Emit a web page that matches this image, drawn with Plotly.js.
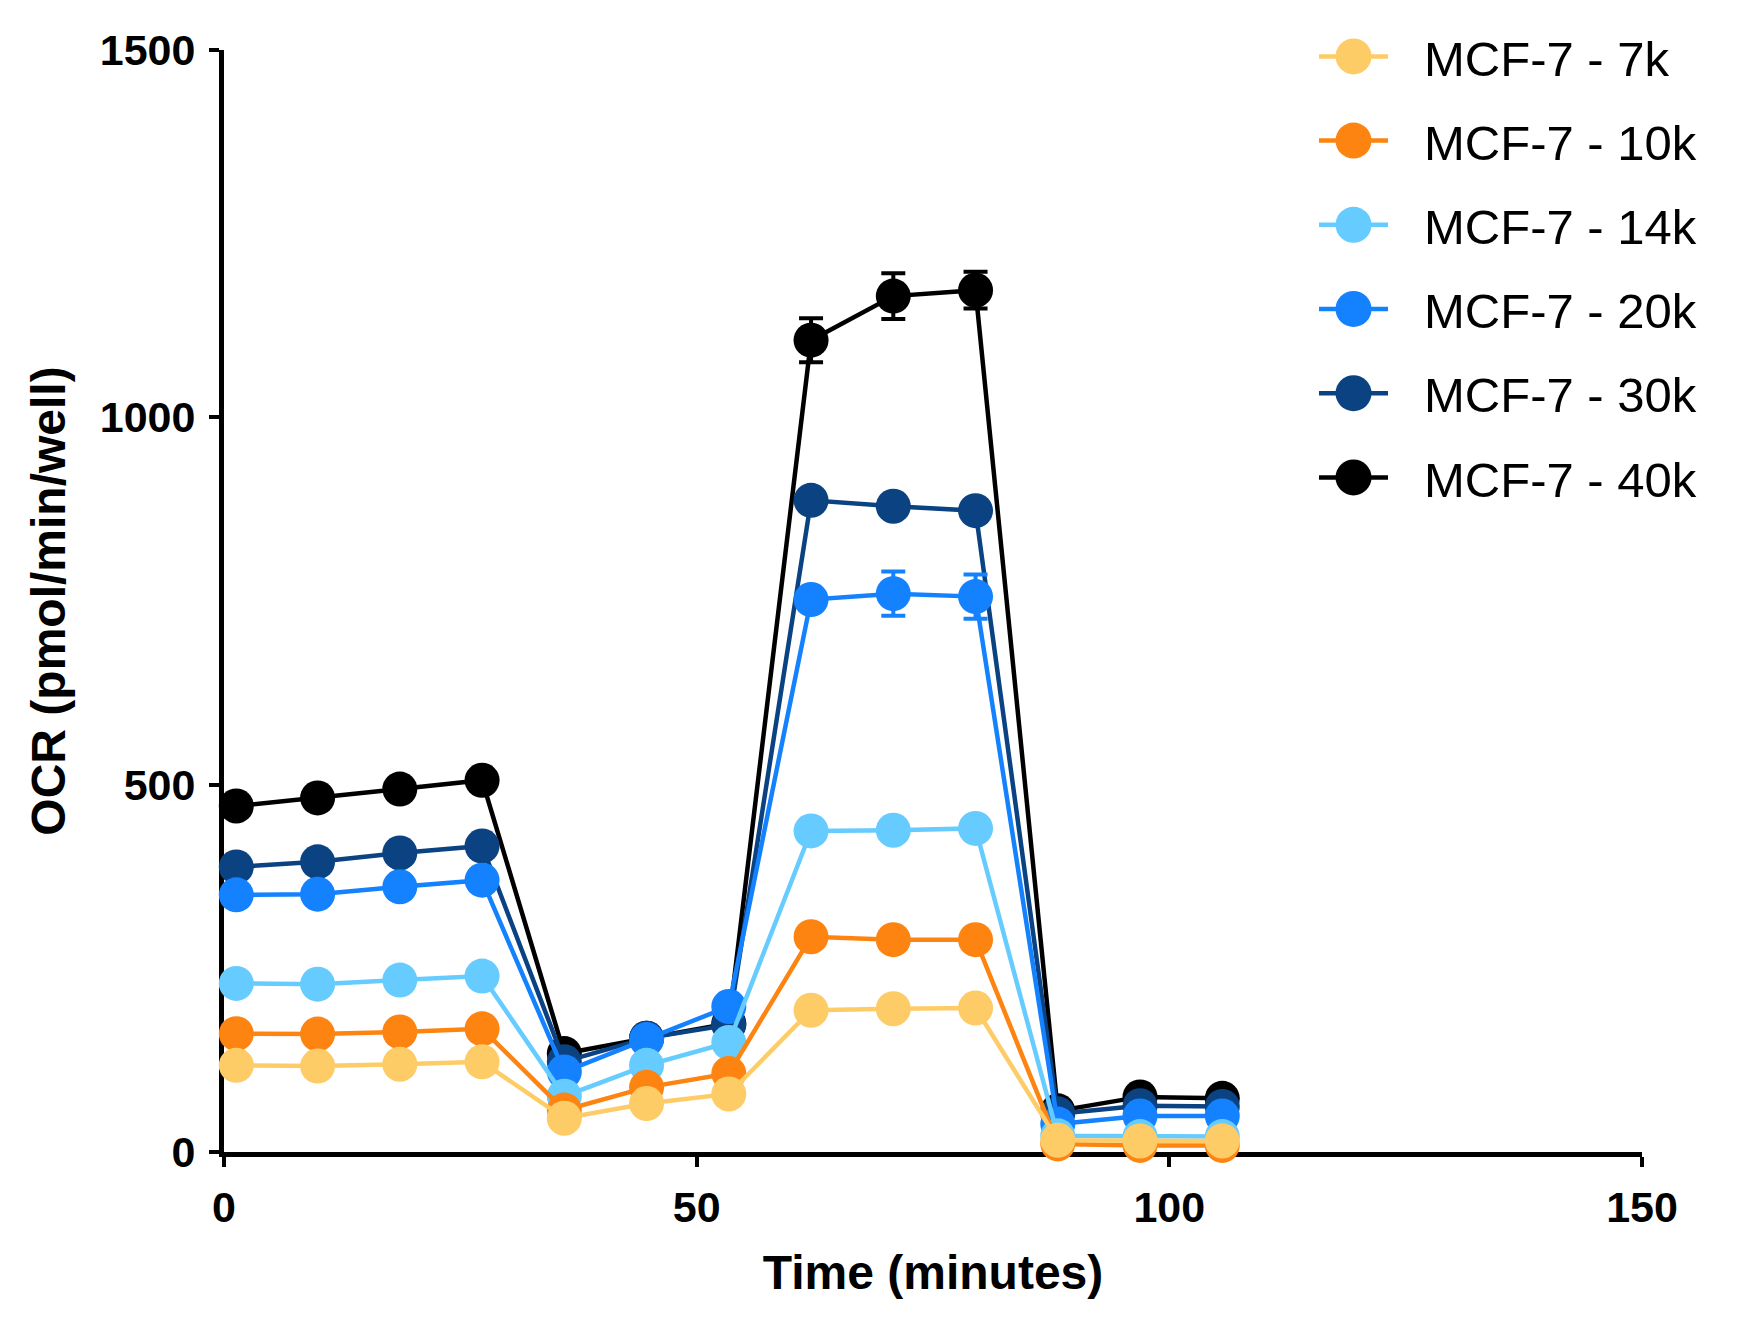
<!DOCTYPE html>
<html>
<head>
<meta charset="utf-8">
<script src="https://cdn.plot.ly/plotly-3.0.1.min.js"></script>
<style>
html, body { margin: 0; padding: 0; background: #ffffff; }
#chart { width: 1755px; height: 1321px; }
</style>
</head>
<body>
<div id="chart"></div>
<script>
// Time points (minutes)
const timeMin = [1.3, 9.9, 18.6, 27.3, 36.0, 44.7, 53.4, 62.1, 70.8, 79.5, 88.2, 96.9, 105.6];

// Series names
const seriesNames = ["MCF-7 - 7k", "MCF-7 - 10k", "MCF-7 - 14k", "MCF-7 - 20k", "MCF-7 - 30k", "MCF-7 - 40k"];

// OCR values (pmol/min/well)
const ocr7k  = [118, 117, 119.5, 122.7, 46, 66, 79, 193, 195, 196, 16, 15, 15];
const ocr10k = [161, 160.5, 163.5, 167.7, 57, 88, 107, 293, 289, 289, 11, 9, 9];
const ocr14k = [229.5, 228.5, 234, 239.5, 76, 118, 149, 437, 438, 440.5, 22, 21, 21];
const ocr20k = [350, 351, 361, 370, 109, 153, 198, 752, 760, 756, 38, 49, 49];
const ocr30k = [388, 395, 407, 416.5, 123, 155, 173, 887, 879, 873, 52, 63, 62];
const ocr40k = [471, 482, 494, 506, 134, 155, 175, 1105, 1165, 1173, 56, 75, 73];

// Error (SEM) values
const err7k  = [0, 0, 0, 0, 0, 0, 0, 0, 0, 0, 0, 0, 0];
const err10k = [0, 0, 0, 0, 0, 0, 0, 0, 0, 0, 0, 0, 0];
const err14k = [0, 0, 0, 0, 0, 0, 0, 0, 0, 0, 0, 0, 0];
const err20k = [0, 0, 0, 0, 0, 0, 0, 8, 30, 30, 0, 0, 0];
const err30k = [0, 0, 0, 0, 0, 0, 0, 0, 0, 0, 0, 0, 0];
const err40k = [0, 0, 0, 0, 0, 0, 0, 30, 31, 25, 0, 0, 0];

// Colours
const colors = ["#FECC66", "#FD8410", "#66CCFF", "#1482FF", "#0A4282", "#000000"];

const values = [ocr7k, ocr10k, ocr14k, ocr20k, ocr30k, ocr40k];
const errors = [err7k, err10k, err14k, err20k, err30k, err40k];

const FONT = "Liberation Sans, Arial, Helvetica, sans-serif";

const traces = [];
// Draw largest series first so the smaller ones sit on top (as in the reference)
for (let i = values.length - 1; i >= 0; i--) {
  traces.push({
    type: "scatter",
    mode: "lines+markers",
    name: seriesNames[i],
    legendgroup: "g" + i,
    legendrank: i + 1,
    x: timeMin,
    y: values[i],
    cliponaxis: false,
    line: { color: colors[i], width: 4.5 },
    marker: { color: colors[i], size: 35, line: { width: 0 } },
    error_y: {
      type: "data",
      array: errors[i],
      visible: true,
      color: colors[i],
      thickness: 4,
      width: 12
    }
  });
}

const layout = {
  width: 1755,
  height: 1321,
  paper_bgcolor: "#ffffff",
  plot_bgcolor: "#ffffff",
  font: { family: FONT, color: "#000000" },
  margin: { l: 224, r: 113, t: 50, b: 169, autoexpand: false },
  showlegend: true,
  legend: {
    x: 0.7687,
    y: 1.029,
    xanchor: "left",
    yanchor: "top",
    traceorder: "grouped",
    tracegroupgap: 17.5,
    itemwidth: 100,
    font: { family: FONT, size: 49, color: "#000000" },
    bgcolor: "rgba(0,0,0,0)"
  },
  xaxis: {
    range: [0, 150],
    tickvals: [0, 50, 100, 150],
    ticktext: ["0", "50", "100", "150"],
    showgrid: false,
    zeroline: false,
    showline: true,
    linecolor: "#000000",
    linewidth: 5,
    ticks: "outside",
    ticklen: 10,
    tickwidth: 4,
    tickcolor: "#000000",
    ticklabelstandoff: 3,
    layer: "below traces",
    tickfont: { family: FONT, size: 43, weight: 700, color: "#000000" },
    title: { text: "Time (minutes)", font: { family: FONT, size: 48, weight: 700, color: "#000000" }, standoff: 27 }
  },
  yaxis: {
    range: [0, 1500],
    tickvals: [0, 500, 1000, 1500],
    ticktext: ["0", "500", "1000", "1500"],
    showgrid: false,
    zeroline: false,
    showline: true,
    linecolor: "#000000",
    linewidth: 5,
    ticks: "outside",
    ticklen: 10,
    tickwidth: 4,
    tickcolor: "#000000",
    ticklabelstandoff: 5,
    layer: "below traces",
    tickfont: { family: FONT, size: 43, weight: 700, color: "#000000" },
    title: { text: "OCR (pmol/min/well)", font: { family: FONT, size: 48, weight: 700, color: "#000000" }, standoff: 20 }
  }
};

Plotly.newPlot("chart", traces, layout, { staticPlot: true, displayModeBar: false }).then(function (gd) {
  // Enlarge the legend symbols to match the reference (longer line, bigger dot)
  const R = 18;
  const circle = "M" + R + ",0A" + R + "," + R + " 0 1,1 0,-" + R + "A" + R + "," + R + " 0 0,1 " + R + ",0Z";
  gd.querySelectorAll(".legend .traces").forEach(function (tr) {
    tr.querySelectorAll(".legendlines path").forEach(function (p) {
      p.setAttribute("d", "M5,0h69");
    });
    tr.querySelectorAll(".legendpoints path.scatterpts").forEach(function (p) {
      p.setAttribute("d", circle);
      p.setAttribute("transform", "translate(39.5,0)");
    });
  });
});
</script>
</body>
</html>
